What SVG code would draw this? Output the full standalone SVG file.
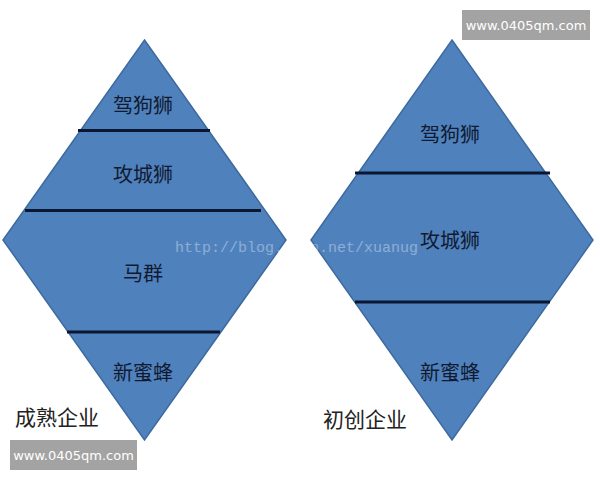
<svg xmlns="http://www.w3.org/2000/svg" width="600" height="480" viewBox="0 0 600 480">
<style>
.dia{fill:#4f81bd;stroke:#3d6a9e;stroke-width:1.5}
.sep{stroke:#0b1630;stroke-width:3}
.lbl{font-family:"Liberation Sans","Noto Sans CJK SC",sans-serif;font-size:20px;fill:#111a30;text-anchor:middle;dominant-baseline:central}
.cap{font-family:"Liberation Sans","Noto Sans CJK SC",sans-serif;font-size:21px;fill:#222;dominant-baseline:central}
.wm{fill:#a3a3a3}
.wmt{font-family:"DejaVu Sans",sans-serif;font-size:13px;fill:#fff;text-anchor:middle;dominant-baseline:central}
.csdn{font-family:"Liberation Mono",monospace;font-size:15px;fill:#fff;opacity:0.35}
</style>
<rect width="600" height="480" fill="#fff"/>
<g id="mature">
<polygon class="dia" points="144.5,40 286,240 144.5,440 3,240"/>
<g id="connectors-left">
<line class="sep" x1="78" y1="130.5" x2="210" y2="130.5"/>
<line class="sep" x1="25" y1="210.5" x2="261" y2="210.5"/>
<line class="sep" x1="67" y1="332" x2="220" y2="332"/>
</g>
<text class="lbl" x="143" y="106">驾狗狮</text>
<text class="lbl" x="143" y="175">攻城狮</text>
<text class="lbl" x="143" y="274">马群</text>
<text class="lbl" x="143" y="373">新蜜蜂</text>
</g>
<g id="startup">
<polygon class="dia" points="452,40 593,240 452,440 311,240"/>
<g id="connectors-right">
<line class="sep" x1="355" y1="173" x2="550" y2="173"/>
<line class="sep" x1="355" y1="302" x2="550" y2="302"/>
</g>
<text class="lbl" x="450" y="241">攻城狮</text>
<text class="lbl" x="450" y="135">驾狗狮</text>
<text class="lbl" x="450" y="373">新蜜蜂</text>
</g>
<text class="cap" x="15" y="417">成熟企业</text>
<text class="cap" x="323" y="419">初创企业</text>
<text class="csdn" x="175" y="252">http://blog.csdn.net/xuanug</text>
<g id="wm-top">
<rect class="wm" x="462" y="10" width="128" height="30"/>
<text class="wmt" x="526" y="25">www.0405qm.com</text>
</g>
<g id="wm-bottom">
<rect class="wm" x="10" y="440" width="127" height="30"/>
<text class="wmt" x="73.5" y="455">www.0405qm.com</text>
</g>
</svg>
